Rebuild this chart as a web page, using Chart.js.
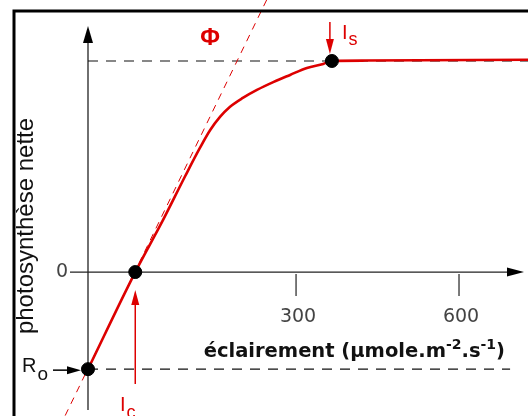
<!DOCTYPE html>
<html>
<head>
<meta charset="utf-8">
<script src="https://cdn.jsdelivr.net/npm/chart.js@4.4.1/dist/chart.umd.min.js"></script>
<style>
  html, body { margin: 0; padding: 0; background: #fff; }
</style>
</head>
<body>
<canvas id="lightCurve" width="528" height="416"></canvas>
<script>
// Light response curve of net photosynthesis (schematic)
const lightLevels = [-83, 4, 55, 96, 123, 142, 160, 178, 202, 228, 258, 289, 320, 350, 366, 427, 727];
const netPhoto = [-4.6, 0, 2.46, 4.55, 5.88, 6.73, 7.35, 7.82, 8.25, 8.63, 9.0, 9.34, 9.67, 9.86, 10, 10.02, 10.06];

// initial slope (phi) line
const phiX = [-125, 246];
const phiY = [-6.8, 12.9];

// key points: Ro, Ic, Is
const keyNames = ['Ro', 'Ic', 'Is'];
const keyX = [-83, 4, 366];
const keyY = [-4.6, 0, 10];

const xTicks = [300, 600];
const yTicks = [0];
const xRange = [-245, 727];
const yRange = [-6.82, 12.89];
const roGuideEnd = 694;

const RED = '#dd0000';
const INK = '#222';

const toPts = (xs, ys) => xs.map((x, i) => ({ x: x, y: ys[i] }));

function arrowHead(ctx, x, y, dx, dy, len, half) {
    // tip at (x, y), pointing along (dx, dy)
    ctx.beginPath();
    ctx.moveTo(x, y);
    ctx.lineTo(x - dx * len - dy * half, y - dy * len + dx * half);
    ctx.lineTo(x - dx * len + dy * half, y - dy * len - dx * half);
    ctx.closePath();
    ctx.fill();
}

function subText(ctx, main, sub, x, y, mainSize, subSize, drop, color) {
    ctx.fillStyle = color;
    ctx.textAlign = 'left';
    ctx.textBaseline = 'alphabetic';
    ctx.font = mainSize + 'px "Liberation Sans", Arial, sans-serif';
    ctx.fillText(main, x, y);
    const w = ctx.measureText(main).width;
    ctx.font = subSize + 'px "Liberation Sans", Arial, sans-serif';
    ctx.fillText(sub, x + w + 1, y + drop);
}

const sketch = {
    id: 'sketch',
    beforeDatasetsDraw(chart) {
        const ctx = chart.ctx;
        const sx = chart.scales.x, sy = chart.scales.y;
        const axisX = sx.getPixelForValue(keyX[0]);
        const zeroY = sy.getPixelForValue(0);
        ctx.save();
        ctx.strokeStyle = INK;
        ctx.fillStyle = INK;
        ctx.lineWidth = 1.3;

        // y axis
        ctx.beginPath();
        ctx.moveTo(axisX, chart.chartArea.bottom - 6);
        ctx.lineTo(axisX, 36);
        ctx.stroke();
        ctx.fillStyle = '#000';
        arrowHead(ctx, axisX, 26, 0, -1, 17, 5);

        // x axis
        ctx.beginPath();
        ctx.moveTo(70, zeroY);
        ctx.lineTo(512, zeroY);
        ctx.stroke();
        arrowHead(ctx, 524, zeroY, 1, 0, 17, 4.5);

        // x ticks
        ctx.strokeStyle = '#333';
        ctx.fillStyle = '#444';
        ctx.font = '19px "DejaVu Sans", sans-serif';
        ctx.textAlign = 'center';
        ctx.textBaseline = 'middle';
        xTicks.forEach(t => {
            const p = sx.getPixelForValue(t);
            ctx.beginPath();
            ctx.moveTo(p, zeroY + 2);
            ctx.lineTo(p, zeroY + 24);
            ctx.stroke();
            ctx.fillText(String(t), p + 2, zeroY + 45);
        });

        // y ticks
        ctx.textAlign = 'right';
        yTicks.forEach(t => {
            ctx.fillText(String(t), 68, sy.getPixelForValue(t));
        });

        // x title with superscripts, fitted to the reference width
        const parts = [['éclairement (µmole.m', 0], ['-2', 1], ['.s', 0], ['-1', 1], [')', 0]];
        let size = 20;
        const fontFor = (p, s) => 'bold ' + (p[1] ? Math.round(s * 0.72) : s) + 'px "DejaVu Sans", sans-serif';
        const widthAt = s => parts.reduce((acc, p) => {
            ctx.font = fontFor(p, s);
            return acc + ctx.measureText(p[0]).width;
        }, 0);
        while (size > 10 && widthAt(size) > 303) size -= 0.5;
        let cx = 505 - widthAt(size);
        ctx.fillStyle = '#111';
        ctx.textAlign = 'left';
        ctx.textBaseline = 'alphabetic';
        parts.forEach(p => {
            ctx.font = fontFor(p, size);
            ctx.fillText(p[0], cx, p[1] ? 349 : 357);
            cx += ctx.measureText(p[0]).width;
        });

        // y title
        ctx.save();
        ctx.translate(33, 226);
        ctx.rotate(-Math.PI / 2);
        ctx.font = '24px "Liberation Sans", Arial, sans-serif';
        ctx.textAlign = 'center';
        ctx.fillStyle = '#111';
        ctx.fillText('photosynthèse nette', 0, 0);
        ctx.restore();

        ctx.restore();
    },
    afterDatasetsDraw(chart) {
        const ctx = chart.ctx;
        const sx = chart.scales.x, sy = chart.scales.y;
        ctx.save();

        // Is arrow (down)
        const isX = sx.getPixelForValue(keyX[2]) - 2;
        const isY = sy.getPixelForValue(keyY[2]);
        ctx.strokeStyle = RED;
        ctx.fillStyle = RED;
        ctx.lineWidth = 1.5;
        ctx.beginPath();
        ctx.moveTo(isX, 22);
        ctx.lineTo(isX, isY - 14);
        ctx.stroke();
        arrowHead(ctx, isX, isY - 7, 0, 1, 15, 4);

        // Ic arrow (up)
        const icX = sx.getPixelForValue(keyX[1]);
        const icY = sy.getPixelForValue(keyY[1]);
        ctx.beginPath();
        ctx.moveTo(icX, 384);
        ctx.lineTo(icX, icY + 30);
        ctx.stroke();
        arrowHead(ctx, icX, icY + 18, 0, -1, 15, 4);

        // Ro arrow (right)
        const roX = sx.getPixelForValue(keyX[0]);
        const roY = sy.getPixelForValue(keyY[0]);
        ctx.strokeStyle = '#000';
        ctx.fillStyle = '#000';
        ctx.beginPath();
        ctx.moveTo(53, roY + 1);
        ctx.lineTo(70, roY + 1);
        ctx.stroke();
        arrowHead(ctx, roX - 7, roY + 1, 1, 0, 14, 4);

        // labels
        subText(ctx, 'R', 'o', 22, 372, 20, 19, 8, '#111');
        subText(ctx, 'I', 's', 342, 39, 20, 18, 6, RED);
        subText(ctx, 'I', 'c', 120, 411, 20, 18, 7, RED);

        ctx.fillStyle = RED;
        ctx.font = 'bold 24px "Liberation Sans", Arial, sans-serif';
        ctx.textAlign = 'center';
        ctx.textBaseline = 'middle';
        ctx.fillText('Φ', 210, 38);

        // frame
        ctx.strokeStyle = '#000';
        ctx.lineWidth = 3;
        ctx.beginPath();
        ctx.moveTo(14, 420);
        ctx.lineTo(14, 11);
        ctx.lineTo(530, 11);
        ctx.stroke();

        ctx.restore();
    }
};

new Chart(document.getElementById('lightCurve'), {
    type: 'scatter',
    data: {
        datasets: [
            {
                label: 'points',
                data: toPts(keyX, keyY),
                backgroundColor: '#000',
                borderColor: '#000',
                pointRadius: 6.5,
                showLine: false,
                order: 0
            },
            {
                label: 'photosynthèse nette',
                data: toPts(lightLevels, netPhoto),
                showLine: true,
                borderColor: RED,
                borderWidth: 2.6,
                pointRadius: 0,
                cubicInterpolationMode: 'monotone',
                order: 1
            },
            {
                label: 'Φ',
                data: toPts(phiX, phiY),
                showLine: true,
                borderColor: RED,
                borderWidth: 1,
                borderDash: [7, 6],
                pointRadius: 0,
                order: 2
            },
            {
                label: 'Pmax',
                data: [{ x: keyX[0], y: keyY[2] }, { x: xRange[1], y: keyY[2] }],
                showLine: true,
                borderColor: '#111',
                borderWidth: 1.2,
                borderDash: [10, 8],
                pointRadius: 0,
                order: 3
            },
            {
                label: 'Ro',
                data: [{ x: keyX[0], y: keyY[0] }, { x: roGuideEnd, y: keyY[0] }],
                showLine: true,
                borderColor: '#111',
                borderWidth: 1.2,
                borderDash: [10, 8],
                pointRadius: 0,
                order: 3
            }
        ]
    },
    options: {
        responsive: false,
        animation: false,
        layout: { padding: 0, autoPadding: false },
        plugins: {
            legend: { display: false },
            tooltip: { enabled: false },
            title: { display: false }
        },
        scales: {
            x: { type: 'linear', display: false, min: xRange[0], max: xRange[1] },
            y: { type: 'linear', display: false, min: yRange[0], max: yRange[1] }
        }
    },
    plugins: [sketch]
});
</script>
</body>
</html>
